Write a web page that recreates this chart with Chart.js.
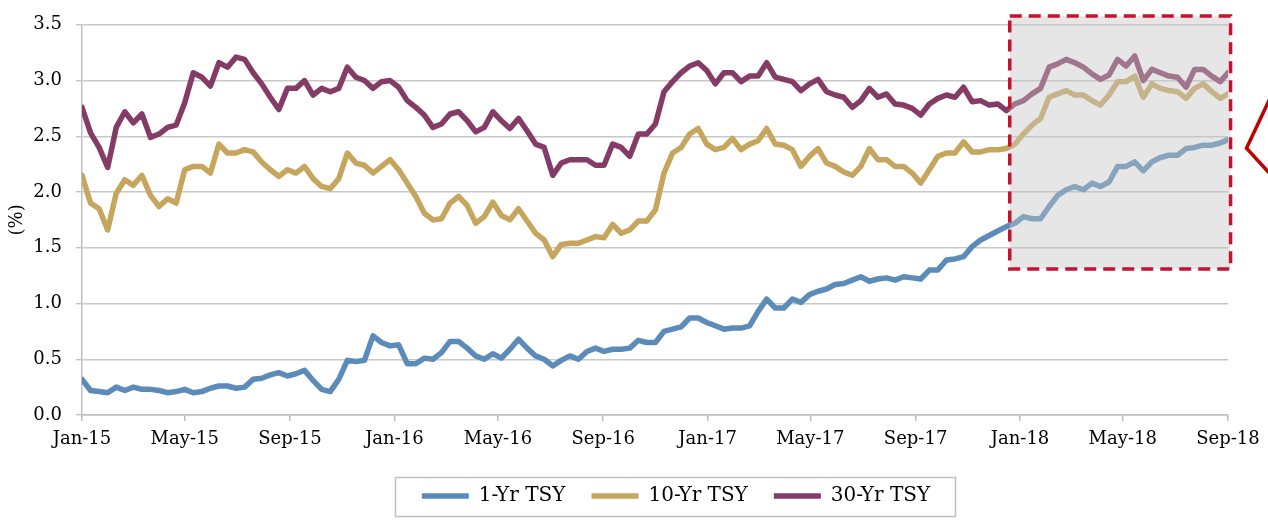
<!DOCTYPE html>
<html><head><meta charset="utf-8">
<script src="https://cdn.jsdelivr.net/npm/chart.js@4.4.1/dist/chart.umd.min.js"></script>
<style>html,body{margin:0;padding:0;background:#fff;overflow:hidden}</style>
</head><body>
<canvas id="c" width="1268" height="520" style="display:block;width:1268px;height:520px"></canvas>
<script>
// Sample dates: days since 1 Jan 2015
const dayOffsets = [0,10,20,30,40,50,60,70,80,90,100,110,120,130,140,150,160,170,180,190,
  200,210,220,230,240,250,260,270,280,290,300,310,320,330,340,350,360,370,380,390,
  400,410,420,430,440,450,460,470,480,490,500,510,520,530,540,550,560,570,580,590,
  600,610,620,630,640,650,660,670,680,690,700,710,720,730,740,750,760,770,780,790,
  800,810,820,830,840,850,860,870,880,890,900,910,920,930,940,950,960,970,980,990,
  1000,1010,1020,1030,1040,1050,1060,1070,1080,1090,1100,1110,1120,1130,1140,1150,1160,1170,1180,1190,
  1200,1210,1220,1230,1240,1250,1260,1270,1280,1290,1300,1310,1320,1330,1339];

const tsy1 = [0.32,0.22,0.21,0.20,0.25,0.22,0.25,0.23,0.23,0.22,0.20,0.21,0.23,0.20,0.21,0.24,0.26,0.26,0.24,0.25,
  0.32,0.33,0.36,0.38,0.35,0.37,0.40,0.31,0.23,0.21,0.32,0.49,0.48,0.49,0.71,0.65,0.62,0.63,0.46,0.46,0.51,0.50,0.56,0.66,0.66,0.60,0.53,0.50,0.55,
  0.51,0.59,0.68,0.60,0.53,0.50,0.44,0.49,0.53,0.50,0.57,0.60,0.57,0.59,0.59,0.60,0.67,0.65,0.65,0.75,0.77,0.79,0.87,0.87,0.83,0.80,0.77,0.78,
  0.78,0.80,0.93,1.04,0.96,0.96,1.04,1.01,1.08,1.11,1.13,1.17,1.18,1.21,1.24,1.20,1.22,1.23,1.21,1.24,1.23,1.22,1.30,1.30,1.39,1.40,1.42,1.51,
  1.57,1.61,1.65,1.69,1.72,1.78,1.76,1.76,1.87,1.97,2.02,2.05,2.02,2.08,2.05,2.09,2.23,2.23,2.27,2.19,2.27,2.31,2.33,2.33,2.39,2.40,2.42,2.42,2.44,2.47];

const tsy10 = [2.15,1.90,1.85,1.66,1.99,2.11,2.06,2.15,1.97,1.87,1.94,1.90,2.20,2.23,2.23,2.17,2.43,2.35,2.35,2.38,
  2.36,2.27,2.20,2.14,2.20,2.17,2.23,2.12,2.05,2.03,2.12,2.35,2.26,2.24,2.17,2.23,2.29,2.20,2.08,1.96,1.81,1.75,1.76,1.90,1.96,1.88,1.72,1.78,1.91,
  1.79,1.75,1.85,1.74,1.63,1.57,1.42,1.53,1.54,1.54,1.57,1.60,1.59,1.71,1.63,1.66,1.74,1.74,1.84,2.17,2.35,2.40,2.52,2.57,2.43,2.38,2.40,2.48,
  2.38,2.43,2.46,2.57,2.43,2.42,2.38,2.23,2.32,2.39,2.26,2.23,2.18,2.15,2.23,2.39,2.29,2.29,2.23,2.23,2.17,2.08,2.20,2.32,2.35,2.35,2.45,2.36,
  2.36,2.38,2.38,2.39,2.43,2.52,2.60,2.66,2.85,2.88,2.91,2.87,2.87,2.82,2.78,2.87,2.99,2.99,3.04,2.85,2.97,2.93,2.91,2.90,2.84,2.93,2.97,2.90,2.84,2.88];

const tsy30 = [2.76,2.53,2.40,2.22,2.58,2.72,2.62,2.70,2.49,2.52,2.58,2.60,2.80,3.07,3.03,2.95,3.16,3.12,3.21,3.19,
  3.07,2.97,2.85,2.74,2.93,2.93,3.00,2.87,2.93,2.90,2.93,3.12,3.03,3.00,2.93,2.99,3.00,2.94,2.82,2.76,2.69,2.58,2.61,2.70,2.72,2.64,2.54,2.58,2.72,
  2.64,2.57,2.66,2.55,2.43,2.40,2.15,2.26,2.29,2.29,2.29,2.24,2.24,2.43,2.40,2.32,2.52,2.52,2.61,2.90,2.99,3.07,3.13,3.16,3.09,2.97,3.07,3.07,
  2.99,3.04,3.04,3.16,3.03,3.01,2.99,2.91,2.97,3.01,2.90,2.87,2.85,2.76,2.82,2.93,2.85,2.88,2.79,2.78,2.75,2.69,2.79,2.84,2.87,2.85,2.94,2.81,
  2.82,2.78,2.79,2.73,2.79,2.82,2.88,2.93,3.12,3.15,3.19,3.16,3.12,3.06,3.01,3.05,3.19,3.13,3.22,3.00,3.10,3.07,3.04,3.03,2.94,3.10,3.10,3.04,2.99,3.07];

const seriesNames = ['1-Yr TSY','10-Yr TSY','30-Yr TSY'];
const seriesColors = ['#5b8bb8','#c6a55d','#843b66'];
const tickDays = [0,120,243,365,486,609,731,851,974,1096,1216,1339];
const tickLabels = ['Jan-15','May-15','Sep-15','Jan-16','May-16','Sep-16','Jan-17','May-17','Sep-17','Jan-18','May-18','Sep-18'];
const yTicks = [0,0.5,1,1.5,2,2.5,3,3.5];

// highlight box (days, yield)
const boxDays = [1084, 1342];
const boxYield = [1.31, 3.578];

const FONT = "'DejaVu Serif', Georgia, serif";

function pts(vals){ return dayOffsets.map((d,i)=>({x:d, y:vals[i]})); }
function ds(i, vals){
  return {label: seriesNames[i], data: pts(vals), borderColor: seriesColors[i], backgroundColor: seriesColors[i],
    borderWidth: 5.5, pointRadius: 0, tension: 0, borderCapStyle: 'round', borderJoinStyle: 'round', fill: false};
}

const overlayPlugin = {
  id: 'overlay',
  afterLayout(chart){
    const lg = chart.legend;
    if (lg){ lg.left += 62; lg.right += 62; }
  },
  afterDatasetsDraw(chart){
    const {ctx, scales:{x, y}} = chart;
    const l = x.getPixelForValue(boxDays[0]), r = x.getPixelForValue(boxDays[1]);
    const t = y.getPixelForValue(boxYield[1]), b = y.getPixelForValue(boxYield[0]);
    ctx.save();
    ctx.fillStyle = 'rgba(198,198,198,0.43)';
    ctx.fillRect(l, t, r - l, b - t);
    ctx.setLineDash([12, 7]);
    ctx.lineWidth = 3.5;
    ctx.strokeStyle = '#c4122f';
    ctx.strokeRect(l, t, r - l, b - t);
    ctx.restore();
  },
  afterDraw(chart){
    const ctx = chart.ctx;
    ctx.save();
    // callout pointer at the right edge
    ctx.strokeStyle = '#c00000';
    ctx.lineWidth = 3.5;
    ctx.lineJoin = 'miter';
    ctx.beginPath();
    ctx.moveTo(1272, 94);
    ctx.lineTo(1246.5, 148.3);
    ctx.lineTo(1272, 176);
    ctx.stroke();
    // legend frame
    ctx.strokeStyle = '#bfbfbf';
    ctx.lineWidth = 1.5;
    ctx.strokeRect(395.5, 477.5, 560, 39);
    ctx.restore();
  }
};

new Chart(document.getElementById('c'), {
  type: 'line',
  data: { datasets: [ds(0, tsy1), ds(1, tsy10), ds(2, tsy30)] },
  options: {
    responsive: false, animation: false, devicePixelRatio: 1,
    layout: { padding: { left: 0, right: 40, top: 24, bottom: 4 } },
    plugins: {
      legend: { position: 'bottom',
        labels: { usePointStyle: true, pointStyle: 'line', pointStyleWidth: 47, padding: 26,
          color: '#000', font: { family: FONT, size: 20 } } },
      tooltip: { enabled: false }
    },
    scales: {
      x: { type: 'linear', min: 0, max: 1339,
        afterBuildTicks: s => { s.ticks = tickDays.map(v => ({ value: v })); },
        afterFit: s => { s.height = 45; },
        ticks: { autoSkip: false, maxRotation: 0, padding: 8, color: '#000', font: { family: FONT, size: 18 },
          callback: (v, i) => tickLabels[i] },
        grid: { drawOnChartArea: false, drawTicks: true, tickLength: 6, color: '#bfbfbf', lineWidth: 1.5 },
        border: { color: '#bfbfbf', width: 1.5 } },
      y: { min: 0, max: 3.5,
        afterBuildTicks: s => { s.ticks = yTicks.map(v => ({ value: v })); },
        afterFit: s => { s.width = 82; },
        ticks: { padding: 14, color: '#000', font: { family: FONT, size: 18 }, callback: v => Number(v).toFixed(1) },
        grid: { color: '#c8c8c8', lineWidth: 1.5, tickLength: 6 },
        border: { color: '#bfbfbf', width: 1.5 },
        title: { display: true, text: '(%)', color: '#000', font: { family: FONT, size: 18 }, padding: { top: 7, bottom: 0 } } }
    }
  },
  plugins: [overlayPlugin]
});
</script>
</body></html>
